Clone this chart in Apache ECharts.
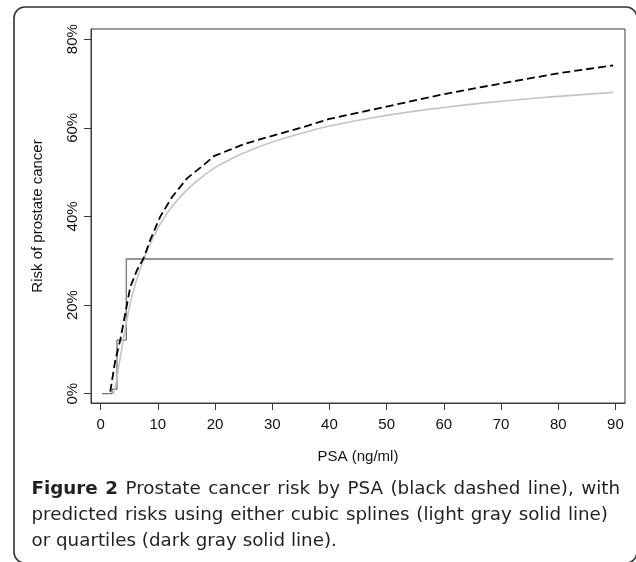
<!DOCTYPE html>
<html>
<head>
<meta charset="utf-8">
<script src="https://cdn.jsdelivr.net/npm/echarts@6/dist/echarts.min.js"></script>
<style>
html,body{margin:0;padding:0;background:#fff;}
#chart{width:636px;height:562px;}
</style>
</head>
<body>
<div id="chart"></div>
<script>
// ---- data ----
const xTicks = [0, 10, 20, 30, 40, 50, 60, 70, 80, 90];
const yTicks = [0, 20, 40, 60, 80];

// empirical risk (black dashed)
const psaEmp  = [1.69, 2.57, 3.44, 4.31, 5.19, 6.36, 7.5, 8.68, 10.4, 12.5, 15.1, 18.0, 19.8, 25, 30, 35, 40, 50, 60, 70, 80, 89.6];
const riskEmp = [0.45, 7.6, 12.1, 18.1, 24.1, 27.9, 30.5, 34.7, 39.9, 44.4, 48.6, 51.6, 53.6, 56.3, 58.2, 60.0, 62.0, 64.8, 67.6, 70.0, 72.3, 74.1];

// cubic spline prediction (light gray)
const psaSpl  = [2.3, 2.7, 3.1, 4.0, 4.9, 6.1, 7.5, 9.25, 11.6, 14.5, 17.4, 20, 22.4, 25, 30, 35, 40, 50, 60, 70, 80, 89.6];
const riskSpl = [0.0, 2.4, 5.6, 12.3, 18.7, 24.9, 30.2, 35.4, 40.7, 45.2, 48.6, 51.0, 52.7, 54.3, 56.8, 58.7, 60.4, 62.8, 64.6, 66.0, 67.1, 68.0];

// quartile prediction (dark gray, step)
const psaQ  = [0.25, 2.0, 2.86, 4.49, 89.6];
const riskQ = [0.0, 1.0, 12.1, 30.4, 30.4];

const xName = 'PSA (ng/ml)';
const yName = 'Risk of prostate cancer';
const captionLines = [
  [['Figure 2', true], ['Prostate cancer risk by PSA (black dashed line), with', false]],
  [['predicted risks using either cubic splines (light gray solid line)', false]],
  [['or quartiles (dark gray solid line).', false]]
];

// ---- chart ----
const zip = (xs, ys) => xs.map((x, i) => [x, ys[i]]);
const chart = echarts.init(document.getElementById('chart'), null, {renderer: 'canvas'});

const FONT = '"Liberation Sans", Arial, sans-serif';
const CAP_FONT = '"DejaVu Sans", sans-serif';

// caption layout
const cvs = document.createElement('canvas').getContext('2d');
function measure(t, bold, fs) {
  cvs.font = (bold ? 'bold ' : '') + fs + 'px ' + CAP_FONT;
  return cvs.measureText(t).width;
}
const capLeft = 31.5;
const lineRights = [620, 608, 338];
const justifyLine = [true, true, false];
const baselines = [494.3, 520.3, 546.3];
// size the caption font so the last (unjustified) line has the reference width
const lastText = captionLines[2].map(s => s[0]).join(' ');
const CAP_SIZE = Math.round(16 * (lineRights[2] - capLeft) / measure(lastText, false, 16) * 10) / 10;
const captionEls = [];
captionLines.forEach((segs, li) => {
  const words = [];
  segs.forEach(([t, b]) => t.split(' ').forEach(w => words.push([w, b])));
  const widths = words.map(([w, b]) => measure(w, b, CAP_SIZE));
  const total = widths.reduce((a, b) => a + b, 0);
  const gap = justifyLine[li] ? (lineRights[li] - capLeft - total) / (words.length - 1) : measure(' ', false, CAP_SIZE);
  let x = capLeft;
  words.forEach(([w, b], i) => {
    captionEls.push({
      type: 'text', x: x, y: baselines[li] - 0.3 * CAP_SIZE, silent: true,
      style: {text: w, font: (b ? 'bold ' : '') + CAP_SIZE + 'px ' + CAP_FONT, fill: '#231f20', verticalAlign: 'middle'}
    });
    x += widths[i] + gap;
  });
});

const lineCol = '#3a3a3a';

chart.setOption({
  animation: false,
  backgroundColor: '#fff',
  grid: {left: 91, top: 29, right: 11, bottom: 159, show: true, borderColor: lineCol, borderWidth: 1, containLabel: false},
  xAxis: {
    type: 'value', min: -1.68, max: 91.67,
    name: xName, nameLocation: 'middle', nameGap: 46,
    nameTextStyle: {fontFamily: FONT, fontSize: 15, color: '#111'},
    axisLine: {show: true, onZero: false, lineStyle: {color: lineCol, width: 1}},
    axisTick: {show: true, length: 7, customValues: xTicks, lineStyle: {color: lineCol, width: 1}},
    axisLabel: {customValues: xTicks, margin: 14, fontFamily: FONT, fontSize: 15, color: '#111'},
    splitLine: {show: false}
  },
  yAxis: {
    type: 'value', min: -2.1, max: 82.3,
    name: yName, nameLocation: 'middle', nameGap: 46,
    nameTextStyle: {fontFamily: FONT, fontSize: 15, color: '#111'},
    axisLine: {show: true, onZero: false, lineStyle: {color: lineCol, width: 1}},
    axisTick: {show: true, length: 7, customValues: yTicks, lineStyle: {color: lineCol, width: 1}},
    axisLabel: {customValues: yTicks, rotate: 90, margin: 11, fontFamily: FONT, fontSize: 15, color: '#111', formatter: v => v + '%'},
    splitLine: {show: false}
  },
  series: [
    {
      name: 'Quartiles', type: 'line', step: 'end', data: zip(psaQ, riskQ),
      showSymbol: false, lineStyle: {color: '#737373', width: 1.3}, z: 2
    },
    {
      name: 'Cubic splines', type: 'line', data: zip(psaSpl, riskSpl), smooth: 0.5,
      showSymbol: false, lineStyle: {color: '#c4c4c4', width: 1.6}, z: 3
    },
    {
      name: 'PSA risk', type: 'line', data: zip(psaEmp, riskEmp),
      showSymbol: false, lineStyle: {color: '#000', width: 1.8, type: [8, 4]}, z: 4
    }
  ],
  graphic: [
    {type: 'rect', shape: {x: 14, y: 7, width: 623, height: 556, r: 11},
     style: {fill: null, stroke: '#333', lineWidth: 1.6}, silent: true}
  ].concat(captionEls)
});
</script>
</body>
</html>
